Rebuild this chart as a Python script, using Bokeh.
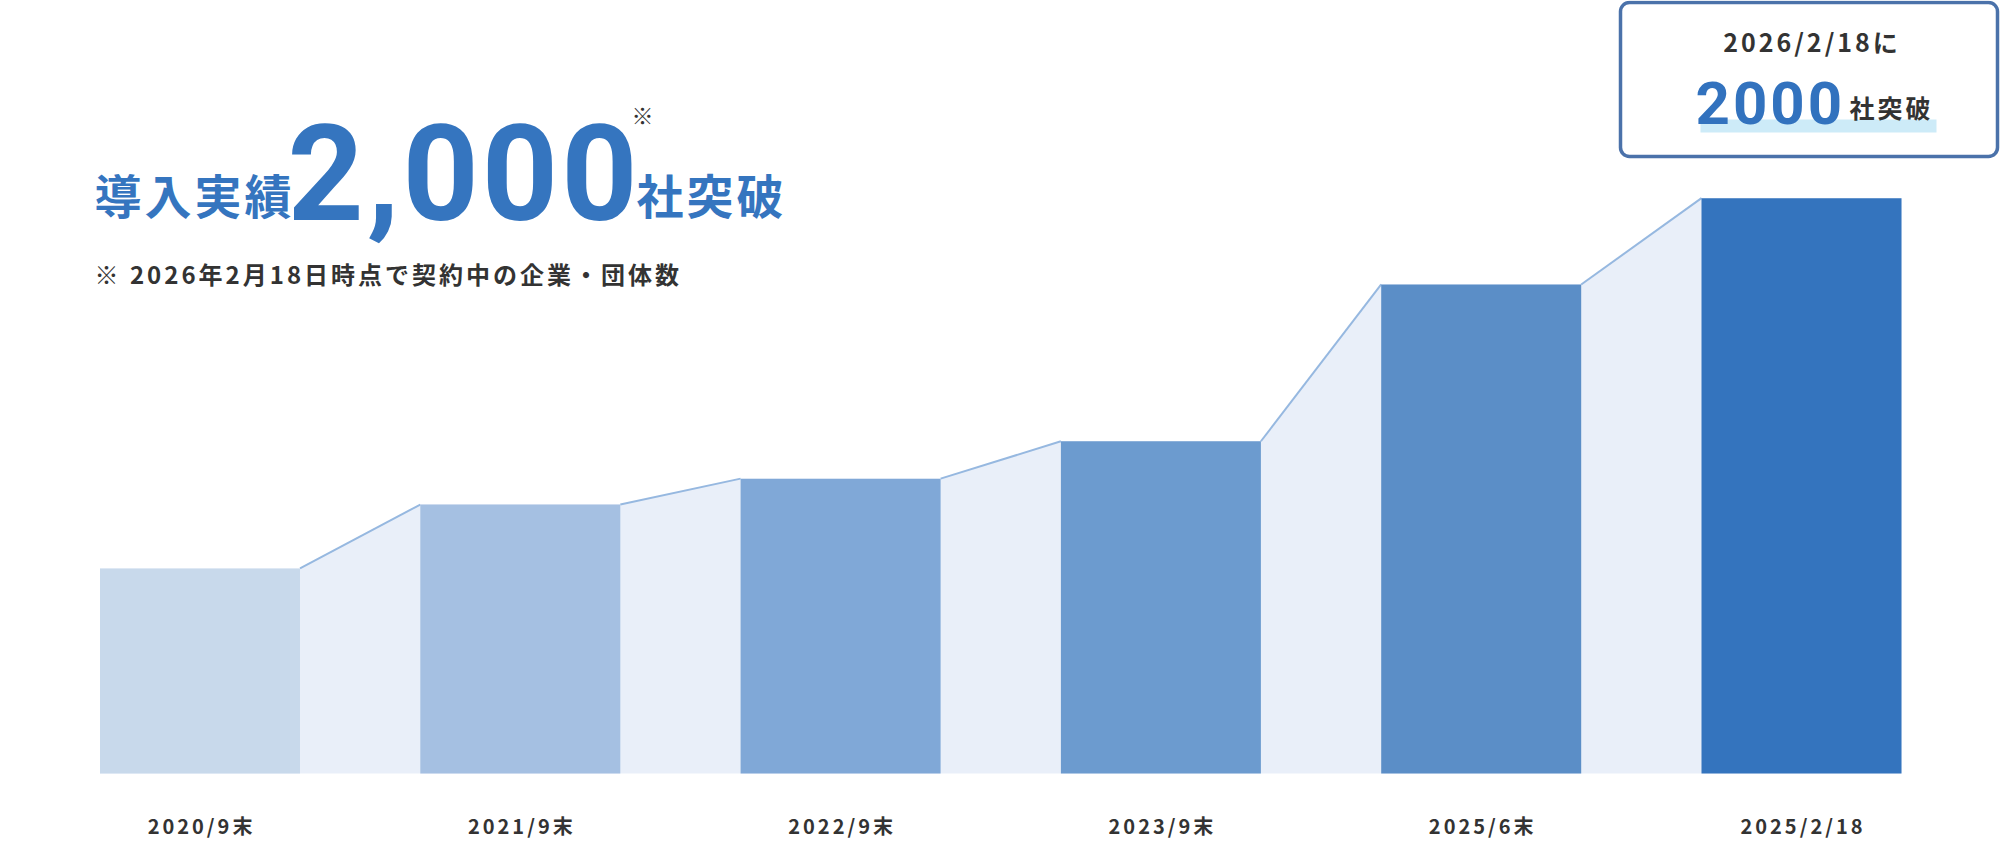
import numpy as np
from bokeh.plotting import figure
from bokeh.models import Range1d, Label, BoxAnnotation
from bokeh.core.properties import value
from bokeh.embed import file_html
from bokeh.resources import INLINE

# ---- data ----
labels = ["2020/9末", "2021/9末", "2022/9末", "2023/9末", "2025/6末", "2025/2/18"]
values = [713, 935, 1025, 1155, 1700, 2000]
bar_colors = ["#C8D9EB", "#A5C0E2", "#80A8D7", "#6C9BCF", "#5B8EC7", "#3474BE"]

headline_pre = "導入実績"
headline_num = "2,000"
headline_post = "社突破"
note_mark = "※"
subtitle = "※ 2026年2月18日時点で契約中の企業・団体数"
box_line1 = "2026/2/18に"
box_num = "2000"
box_post = "社突破"

JPF = "Noto Sans CJK JP"
JP = value(JPF)
BLUE = "#3575BF"
DARK = "#333333"
LS = 3  # letter spacing (px)

W, H = 2000, 846
p = figure(width=W, height=H, output_backend="svg", toolbar_location=None,
           x_range=Range1d(-0.6229, 5.6213), y_range=Range1d(-253.8, 2687.2),
           x_axis_location=None, y_axis_location=None, min_border=0,
           outline_line_color=None, background_fill_color="white",
           border_fill_color="white")
p.grid.visible = False
p.styles = {"letter-spacing": f"{LS}px"}

idx = np.arange(len(values))
bw = 0.6244
vals = np.array(values, dtype=float)

# light area connecting bar tops
xs = np.ravel(np.column_stack([idx - bw / 2, idx + bw / 2]))
ys = np.repeat(vals, 2)
p.varea(x=xs, y1=np.zeros_like(ys), y2=ys, fill_color="#E9EFF9")
p.segment(x0=idx[:-1] + bw / 2, y0=vals[:-1], x1=idx[1:] - bw / 2, y1=vals[1:],
          line_color="#96B8E0", line_width=2)

p.vbar(x=idx, width=bw, top=vals, bottom=0, fill_color=bar_colors, line_color=None)

# category labels (centre corrected for letter spacing)
lab_dx = [-(len(s) - 1) * LS / 2 for s in labels]
p.text(x=idx, y=np.zeros_like(vals), text=labels, x_offset=lab_dx, y_offset=52.5,
       text_align="center", text_baseline="middle", text_font=JP,
       text_font_style="bold", text_font_size="20px", text_color=DARK)

# headline
p.add_layout(Label(x=94, y=653, x_units="screen", y_units="screen", text=headline_pre,
                   text_font=JPF, text_font_style="bold", text_font_size="47px",
                   text_color=BLUE, text_baseline="middle", text_align="left"))
p.add_layout(Label(x=287, y=675, x_units="screen", y_units="screen", text=headline_num,
                   text_font="Roboto", text_font_style="bold", text_font_size="133px",
                   text_color=BLUE, text_baseline="alphabetic", text_align="left"))
p.add_layout(Label(x=631, y=733, x_units="screen", y_units="screen", text=note_mark,
                   text_font=JPF, text_font_size="22px",
                   text_color=DARK, text_baseline="middle", text_align="left"))
p.add_layout(Label(x=636, y=653, x_units="screen", y_units="screen", text=headline_post,
                   text_font=JPF, text_font_style="bold", text_font_size="47px",
                   text_color=BLUE, text_baseline="middle", text_align="left"))
p.add_layout(Label(x=94, y=573.5, x_units="screen", y_units="screen", text=subtitle,
                   text_font=JPF, text_font_style="bold", text_font_size="24px",
                   text_color=DARK, text_baseline="middle", text_align="left"))

# callout box
p.add_layout(BoxAnnotation(left=1620, right=1997, bottom=690, top=844,
                           left_units="screen", right_units="screen",
                           bottom_units="screen", top_units="screen",
                           fill_color="white", fill_alpha=1.0,
                           line_color="#4B72AA", line_alpha=1.0, line_width=3.5,
                           border_radius=9))
p.add_layout(BoxAnnotation(left=1700, right=1936, bottom=714, top=727,
                           left_units="screen", right_units="screen",
                           bottom_units="screen", top_units="screen",
                           fill_color="#CDEBF8", fill_alpha=1.0, line_color=None))
p.add_layout(Label(x=1810, x_offset=-(len(box_line1) - 1) * LS / 2, y=805.5,
                   x_units="screen", y_units="screen", text=box_line1,
                   text_font=JPF, text_font_style="bold", text_font_size="25px",
                   text_color=DARK, text_baseline="middle", text_align="center"))
p.add_layout(Label(x=1695, y=743.5, x_units="screen", y_units="screen", text=box_num,
                   text_font="Roboto", text_font_style="bold", text_font_size="60px",
                   text_color="#3272BE", text_baseline="alphabetic", text_align="left"))
p.add_layout(Label(x=1849, y=740, x_units="screen", y_units="screen", text=box_post,
                   text_font=JPF, text_font_style="bold", text_font_size="25px",
                   text_color=DARK, text_baseline="middle", text_align="left"))

open("out.html", "w").write(file_html(p, INLINE))
